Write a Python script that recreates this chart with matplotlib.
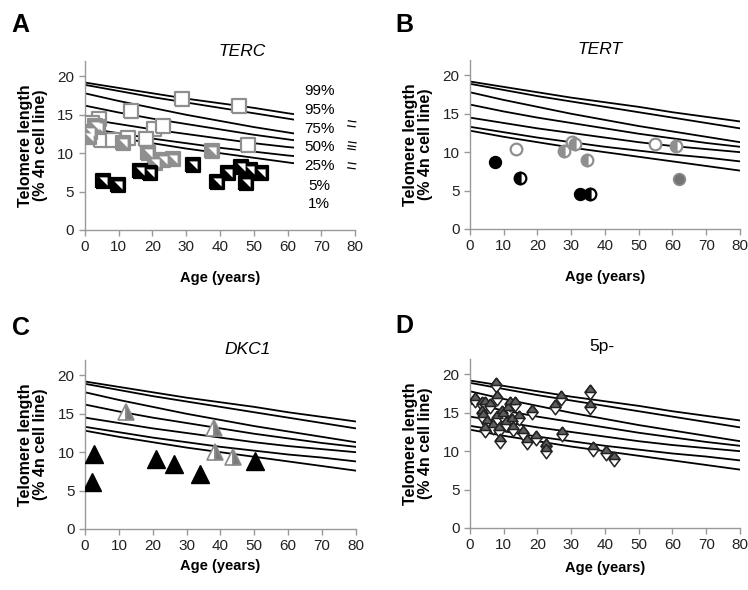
import numpy as np
import matplotlib
matplotlib.use('Agg')
import matplotlib.pyplot as plt
from matplotlib.patches import Rectangle

plt.rcParams['font.family'] = ['Liberation Sans', 'DejaVu Sans']

# percentile curves (age in years, telomere length)
curve_ages = [0, 10, 20, 30, 40, 50, 60, 70, 80]
p99 = [19.2, 18.5, 17.8, 17.1, 16.5, 15.9, 15.2, 14.6, 14.0]
p95 = [18.9, 18.1, 17.3, 16.6, 15.9, 15.2, 14.5, 13.8, 13.1]
p75 = [17.8, 16.8, 15.9, 15.0, 14.2, 13.4, 12.7, 12.0, 11.3]
p50 = [16.2, 15.3, 14.5, 13.8, 13.1, 12.4, 11.8, 11.2, 10.7]
p25 = [14.5, 13.8, 13.1, 12.5, 11.9, 11.3, 10.8, 10.4, 10.0]
p5 = [13.3, 12.6, 11.9, 11.3, 10.7, 10.2, 9.7, 9.3, 8.8]
p1 = [12.8, 12.0, 11.3, 10.6, 10.0, 9.4, 8.8, 8.2, 7.6]
curves = [p99, p95, p75, p50, p25, p5, p1]
pct_labels = ['99%', '95%', '75%', '50%', '25%', '5%', '1%']
pct_label_y = [18.05, 15.6, 13.2, 10.8, 8.3, 5.7, 3.4]

# A - TERC
terc_open_x = [28.7, 45.5, 13.7, 48.3, 20.6, 23.3, 18.2, 4.3, 2.3, 4.7, 8.5, 12.8]
terc_open_y = [17.0, 16.2, 15.5, 11.1, 13.1, 13.6, 11.8, 14.4, 13.9, 11.7, 11.7, 12.0]
terc_gray_x = [1.2, 1.6, 3.0, 4.0, 11.4, 18.8, 20.8, 23.2, 26.2, 37.7]
terc_gray_y = [12.1, 12.8, 13.6, 13.4, 11.3, 10.0, 8.7, 9.1, 9.3, 10.3]
terc_black_x = [5.4, 9.8, 16.4, 19.2, 31.9, 39.2, 42.4, 46.1, 48.9, 47.7, 52.0]
terc_black_y = [6.4, 5.9, 7.7, 7.4, 8.5, 6.3, 7.4, 8.2, 7.8, 6.1, 7.4]

# B - TERT
tert_black_x = [7.4, 32.5]
tert_black_y = [8.7, 4.6]
tert_open_x = [13.6, 30.1, 54.8]
tert_open_y = [10.4, 11.3, 11.0]
tert_halfgray_x = [27.9, 31.2, 34.6, 60.9]
tert_halfgray_y = [10.15, 11.1, 9.0, 10.85]
tert_halfblack_x = [14.8, 35.6]
tert_halfblack_y = [6.7, 4.6]
tert_dark_x = [61.9]
tert_dark_y = [6.45]

# C - DKC1
dkc_black_x = [2.1, 2.7, 21.1, 26.4, 34.0, 50.1]
dkc_black_y = [6.1, 9.8, 9.15, 8.5, 7.2, 8.8]
dkc_half_x = [12.0, 38.2, 38.4, 43.6]
dkc_half_y = [15.2, 13.2, 10.0, 9.4]

# D - 5p-
cdc_x = [1.5, 3.5, 4.6, 6.0, 7.8, 8.1, 3.5, 3.8, 5.0, 4.4, 6.9, 7.9, 8.5, 9.0,
         9.5, 9.9, 10.7, 11.3, 12.0, 13.3, 12.6, 12.8, 14.6, 15.6, 16.8, 18.5,
         19.6, 22.5, 22.6, 25.2, 26.9, 27.3, 35.7, 35.6, 36.5, 40.2, 42.6]
cdc_y = [16.6, 16.1, 16.1, 15.9, 18.6, 16.9, 15.0, 14.4, 13.7, 12.8, 13.1, 14.3, 12.7, 11.3,
         15.0, 14.6, 13.5, 15.3, 16.1, 16.2, 13.9, 12.9, 14.3, 12.4, 11.2, 15.1,
         11.7, 10.7, 10.0, 15.8, 16.9, 12.2, 17.7, 15.8, 10.3, 9.7, 9.0]

GRAY = '#8f8f8f'
SQUARE = [(-1, -1), (1, -1), (1, 1), (-1, 1), (-1, -1)]
CORNER = [(-1, 1), (1, 1), (1, -1), (-1, 1)]
DIAMOND = [(0, 1), (0.75, 0), (0, -1), (-0.75, 0), (0, 1)]
DIAMOND_TOP = [(-0.75, 0), (0, 1), (0.75, 0), (-0.75, 0)]


def setup_axes(ax, xpad):
    for s in ['top', 'right']:
        ax.spines[s].set_visible(False)
    for s in ['left', 'bottom']:
        ax.spines[s].set_color('#999999')
        ax.spines[s].set_linewidth(1.0)
    ax.set_xlim(0, 80)
    ax.set_ylim(0, 22)
    ax.set_xticks(range(0, 81, 10))
    ax.set_yticks(range(0, 21, 5))
    ax.tick_params(colors='#999999', labelcolor='#222222', labelsize=11, length=4, width=1)
    ax.set_xlabel('Age (years)', fontsize=10.5, fontweight='bold', labelpad=xpad)
    ax.set_ylabel('Telomere length\n(% 4n cell line)', fontsize=11.5, fontweight='bold',
                  labelpad=7, linespacing=1.0)


def draw_curves(ax, max_age=None):
    for c in curves:
        line, = ax.plot(curve_ages, c, color='black', lw=1.3, zorder=1)
        if max_age is not None:
            clip = Rectangle((0, 0), max_age, 22, transform=ax.transData)
            line.set_clip_path(clip)


fig = plt.figure(figsize=(7.48, 5.9), dpi=100)
axA = fig.add_axes([0.1132, 0.6102, 0.3618, 0.2864])
axB = fig.add_axes([0.6283, 0.6119, 0.3610, 0.2864])
axC = fig.add_axes([0.1137, 0.1034, 0.3618, 0.2864])
axD = fig.add_axes([0.6283, 0.1051, 0.3610, 0.2864])

# Panel A
setup_axes(axA, 12)
draw_curves(axA, max_age=62)
ms = 9.5
axA.plot(terc_open_x, terc_open_y, ls='none', marker=SQUARE, ms=ms, mfc='white', mec=GRAY, mew=1.6, zorder=3)
axA.plot(terc_gray_x, terc_gray_y, ls='none', marker=SQUARE, ms=ms, mfc=GRAY, mec=GRAY, mew=1.6, zorder=3)
axA.plot(terc_gray_x, terc_gray_y, ls='none', marker=CORNER, ms=ms * 0.62, mfc='white', mec='none', zorder=4)
axA.plot(terc_black_x, terc_black_y, ls='none', marker=SQUARE, ms=ms, mfc='black', mec='black', mew=1.6, zorder=3)
axA.plot(terc_black_x, terc_black_y, ls='none', marker=CORNER, ms=ms * 0.62, mfc='white', mec='none', zorder=4)
for lab, y in zip(pct_labels, pct_label_y):
    axA.text(69.3, y, lab, ha='center', va='center', fontsize=11, clip_on=False)
for y, mark in zip([13.6, 10.8, 8.2], ['=', '\u2261', '=']):
    axA.text(78.6, y, mark, ha='center', va='center', fontsize=13, rotation=-8, clip_on=False)

# Panel B
setup_axes(axB, 12)
draw_curves(axB)
cs = 8.4
axB.plot(tert_open_x, tert_open_y, ls='none', marker='o', ms=cs, mfc='white', mec=GRAY, mew=1.6, zorder=3)
axB.plot(tert_halfgray_x, tert_halfgray_y, ls='none', marker='o', ms=cs, fillstyle='left',
         mfc=GRAY, mfcalt='white', mec=GRAY, mew=1.6, zorder=3)
axB.plot(tert_black_x, tert_black_y, ls='none', marker='o', ms=cs, mfc='black', mec='black', mew=1.2, zorder=3)
axB.plot(tert_halfblack_x, tert_halfblack_y, ls='none', marker='o', ms=cs, fillstyle='left',
         mfc='black', mfcalt='white', mec='black', mew=1.6, zorder=3)
axB.plot(tert_dark_x, tert_dark_y, ls='none', marker='o', ms=cs, mfc='#737373', mec='#8a8a8a', mew=1.2, zorder=3)

# Panel C
setup_axes(axC, 4)
draw_curves(axC)
axC.plot(dkc_black_x, dkc_black_y, ls='none', marker='^', ms=13.5, mfc='black', mec='black', zorder=3)
axC.plot(dkc_half_x, dkc_half_y, ls='none', marker='^', ms=12, fillstyle='left',
         mfc='white', mfcalt='#7a7a7a', mec='#8a8a8a', mew=1.2, zorder=3)

# Panel D
setup_axes(axD, 6)
draw_curves(axD)
axD.plot(cdc_x, cdc_y, ls='none', marker=DIAMOND, ms=10.5, mfc='white', mec='#222222', mew=1.1, zorder=3)
axD.plot(cdc_x, cdc_y, ls='none', marker=DIAMOND_TOP, ms=10.5, mfc='#5e5e5e', mec='#222222', mew=1.1, zorder=4)

# titles and panel letters
fig.text(242 / 748, 1 - 51 / 590, 'TERC', fontsize=12.5, style='italic', ha='center', va='center')
fig.text(600 / 748, 1 - 50 / 590, 'TERT', fontsize=12.5, style='italic', ha='center', va='center')
fig.text(248 / 748, 1 - 349 / 590, 'DKC1', fontsize=12.5, style='italic', ha='center', va='center')
fig.text(602 / 748, 1 - 347 / 590, '5p-', fontsize=12.5, ha='center', va='center')
for lab, x, y in [('A', 11, 25), ('B', 395, 25), ('C', 12, 328), ('D', 395, 326)]:
    fig.text(x / 748, 1 - y / 590, lab, fontsize=18, fontweight='bold', ha='left', va='center')

fig.savefig('out.png', dpi=100)
